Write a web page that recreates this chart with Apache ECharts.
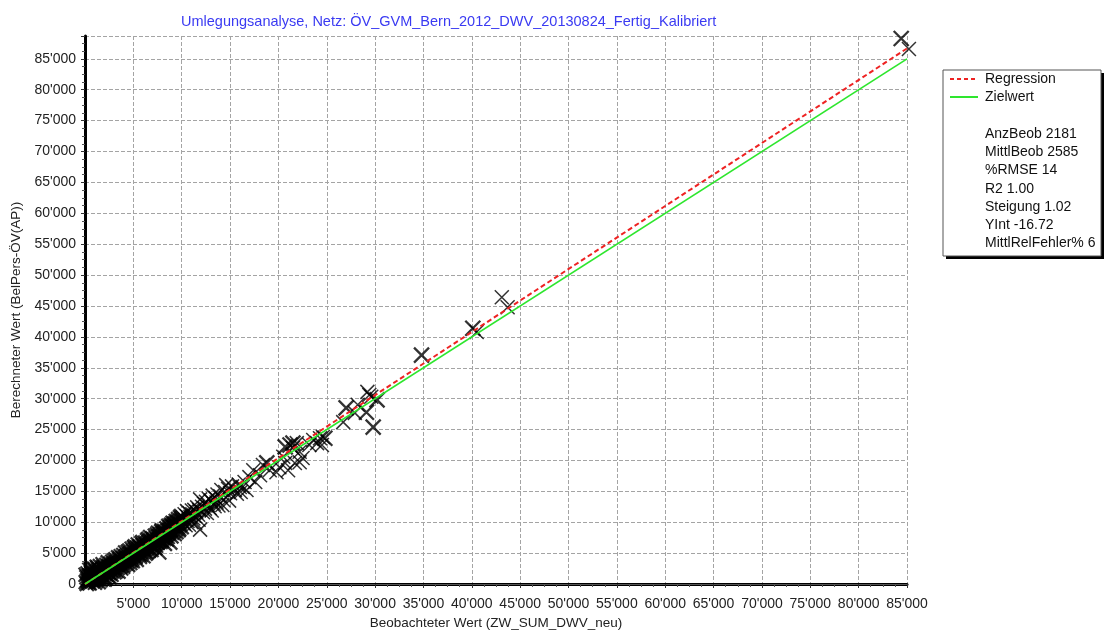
<!DOCTYPE html>
<html>
<head>
<meta charset="utf-8">
<script src="https://cdn.jsdelivr.net/npm/echarts@6/dist/echarts.min.js"></script>
<style>
html,body{margin:0;padding:0;background:#fff;}
#chart{width:1107px;height:630px;}
</style>
</head>
<body>
<div id="chart"></div>
<script>
// ---------- DATA ----------
var chartTitle = "Umlegungsanalyse, Netz: ÖV_GVM_Bern_2012_DWV_20130824_Fertig_Kalibriert";
var xAxisName = "Beobachteter Wert (ZW_SUM_DWV_neu)";
var yAxisName = "Berechneter Wert (BelPers-ÖV(AP))";
var legendNames = ["Regression", "Zielwert"];
var statLabels = ["AnzBeob", "MittlBeob", "%RMSE", "R2", "Steigung", "YInt", "MittlRelFehler%"];
var statValues = ["2181", "2585", "14", "1.00", "1.02", "-16.72", "6"];

// regression line end points [observed, calculated]
var regressionLine = [[0, -17], [85000, 86683]];
// target line y = x
var targetLine = [[0, 0], [85000, 85000]];

// dense band of observations (observed, calculated)
var denseObs = [
[80,300],[150,1100],[220,600],[60,1500],[190,0],
[320,900],[380,200],[260,1700],[410,1300],[350,500],
[520,1200],[480,100],[600,1900],[560,700],[450,2300],
[700,1500],[760,400],[680,1000],[800,2100],[740,2700],
[900,600],[950,1700],[880,1300],[1000,2400],[1020,200],
[1100,1000],[1180,1900],[1150,500],[1220,2800],[1080,1500],
[1300,800],[1380,2200],[1350,1400],[1420,300],[1280,2600],
[1500,1100],[1560,1800],[1600,600],[1540,2900],[1460,2300],
[1700,1500],[1760,900],[1800,2500],[1680,2000],[1820,3200],
[1900,1200],[1960,2200],[2000,1700],[2050,700],[1880,2800],
[2100,2500],[2180,1500],[2200,3100],[2140,1000],[2250,2000],
[2300,2200],[2380,1300],[2420,2900],[2350,3500],[2460,1800],
[2500,2600],[2580,1700],[2620,3300],[2550,1100],[2680,2200],
[2700,2900],[2760,2000],[2820,3600],[2740,1500],[2880,2600],
[2900,3000],[2960,2300],[3000,3800],[3050,1900],[2940,3300],
[3100,2700],[3180,3400],[3220,2100],[3150,4000],[3260,3100],
[3300,3600],[3380,2600],[3420,4300],[3350,3100],[3460,2000],
[3500,3300],[3580,4100],[3620,2800],[3550,3800],[3680,3400],
[3700,4500],[3760,3000],[3820,3700],[3740,2500],[3880,4200],
[3900,3500],[3960,4700],[4000,3100],[4050,4100],[3940,2800],
[4100,3800],[4180,4400],[4220,3300],[4150,5100],[4260,4000],
[4300,4600],[4380,3600],[4420,5200],[4350,4100],[4460,3100],
[4500,4300],[4580,5400],[4620,3900],[4550,4800],[4680,3400],
[4700,5000],[4760,4300],[4820,5700],[4740,3800],[4880,4700],
[4900,4100],[4960,5300],[5000,4600],[5050,5900],[4940,3700],
[5100,4900],[5180,5600],[5220,4300],[5150,6100],[5260,5200],
[5300,4600],[5380,5900],[5420,5000],[5350,3900],[5460,6400],
[5500,5400],[5580,4800],[5620,6100],[5550,5700],[5680,4400],
[5700,6000],[5760,5200],[5820,6600],[5740,4700],[5880,5600],
[5900,5100],[5960,6300],[6000,5700],[6050,4500],[5940,6800],
[6100,6000],[6180,5300],[6220,6700],[6150,5600],[6260,4900],
[6300,6400],[6380,5800],[6420,7100],[6350,5200],[6460,6600],
[6500,6000],[6580,6800],[6620,5400],[6550,7300],[6680,6300],
[6700,5700],[6760,7000],[6820,6400],[6740,7600],[6880,5500],
[6900,6700],[6960,7400],[7000,6100],[7050,7000],[6940,5900],
[7100,7200],[7180,6500],[7220,7800],[7150,6900],[7260,5800],
[7300,7400],[7380,6800],[7420,8000],[7350,6200],[7460,7100],
[7500,6700],[7580,7700],[7620,7200],[7550,8300],[7680,5100],
[7700,7300],[7760,8100],[7820,6800],[7740,7700],[7880,8500],
[7900,7600],[7960,7000],[8000,8200],[8050,7500],[7940,8700],
[8100,7900],[8180,8600],[8220,7300],[8150,8200],[8260,6500],
[8300,8400],[8380,7800],[8420,9000],[8350,8000],[8460,7200],
[8500,8600],[8580,8100],[8620,9400],[8550,7600],[8680,8800],
[8700,8300],[8760,9200],[8820,6700],[8740,8700],[8880,9600],
[8900,8800],[8960,9400],[9000,8300],[9050,9900],[8940,7700],
[9100,9200],[9180,8600],[9220,9800],[9150,9500],[9260,8100],
[9300,9400],[9380,10200],[9420,8900],[9350,9800],[9460,8400],
[9500,9800],[9580,9200],[9620,10500],[9550,10100],[9680,8700],
[9700,10000],[9760,9500],[9820,10800],[9740,8900],[9880,10300],
[9900,9700],[9960,10600],[10000,9200],[10050,10200],[9940,11000]
];

// medium range observations
var midObs = [
[10100,10800],[10200,9800],[10300,11300],[10350,10400],[10400,9500],
[10500,11000],[10550,11800],[10600,10200],[10700,10700],[10750,9600],
[10800,11500],[10900,10900],[11000,10000],[11050,11900],[11100,11300],
[11200,10600],[11300,12000],[11350,11000],[11400,9900],[11500,11700],
[11600,12400],[11700,11200],[11750,10400],[11800,12000],[11900,13700],
[11900,8800],[12100,12500],[12200,11600],[12300,13000],[12400,12200],
[12500,13300],[12600,11500],[12700,12800],[12800,13800],[12900,12300],
[13000,13500],[13100,11900],[13200,14300],[13300,13000],[13400,12600],
[13500,13900],[13700,14500],[13800,12700],[14000,14200],[14100,15200],
[14300,13600],[14500,14900],[14600,16000],[14800,15400],[15000,14700],
[13600,13200],[14200,12800],[14900,13500],
[15200,15800],[15500,15200],[15700,14600],[15900,16100],[16100,14900],
[16300,15700],[16500,16500],[16000,15700],[16700,15200],[17000,17300],
[17400,18400],[17600,16500],[18100,17600],[18400,19250],[19100,18400],
[19800,18100],[20100,18900],[20700,19600],[21000,18400],[21700,19600],
[22200,19700],[22500,20400],[22200,21400],[20500,20600],[21500,22000],
[21900,22800],[23200,22500],[23600,23300],[24000,22800],[24300,23600],
[24500,22500],[24600,23800],[26700,26200],[27900,27700],[28200,29000],
[29200,31100],[29600,30300],[29400,30600],[43100,46400],[43700,44800],
[40500,40800],[85200,86600]
];

// bold (overlapping) observations
var boldObs = [
[18800,19600],[20700,22200],[21200,22500],[21500,22800],[24800,23600],
[27000,28500],[29100,27800],[30200,29800],[29800,25400],[34800,37050],
[40100,41400],[84400,88300]
];

// axis ticks
var xTickMax = 85000;
var yTickMax = 88700;
var tickStep = 5000;

// ---------- CHART ----------
function fmt(v) {
  return String(Math.round(v)).replace(/\B(?=(\d{3})+(?!\d))/g, "'");
}
var FONT = "'Liberation Sans', Arial, sans-serif";
var chart = echarts.init(document.getElementById('chart'), null, {renderer: 'canvas'});
var crossPath = 'path://M0,0L10,10M10,0L0,10';
var RED = '#ee2222', GREEN = '#2ee62e';

var option = {
  animation: false,
  backgroundColor: '#ffffff',
  title: {
    text: chartTitle,
    left: 176, top: 9,
    textStyle: {fontFamily: FONT, fontSize: 14.5, fontWeight: 'normal', color: '#3a3af2'}
  },
  grid: {left: 85, right: 200, top: 36, bottom: 46, containLabel: false, outerBoundsMode: 'none'},
  xAxis: [{
    type: 'value', min: 0, max: xTickMax, interval: tickStep,
    name: xAxisName, nameLocation: 'middle', nameGap: 30,
    nameTextStyle: {fontFamily: FONT, fontSize: 13.5, color: '#222'},
    axisLine: {show: true, onZero: false, lineStyle: {color: '#000', width: 3}},
    axisTick: {show: true, length: 4, lineStyle: {color: '#333'}},
    minorTick: {show: true, splitNumber: 4, length: 3, lineStyle: {color: '#555'}},
    axisLabel: {fontFamily: FONT, fontSize: 14, color: '#222', margin: 13, showMinLabel: false,
      formatter: function (v) { return v === 0 ? '' : fmt(v); }},
    splitLine: {show: true, lineStyle: {color: '#a4a4a4', width: 1, type: [4, 2]}}
  }, {
    type: 'value', position: 'top', min: 0, max: xTickMax,
    axisLine: {show: true, lineStyle: {color: '#555', width: 1}},
    axisTick: {show: false}, axisLabel: {show: false}, splitLine: {show: false}
  }],
  yAxis: {
    type: 'value', min: 0, max: yTickMax, interval: tickStep,
    name: yAxisName, nameLocation: 'middle', nameGap: 60,
    nameTextStyle: {fontFamily: FONT, fontSize: 13.5, color: '#222'},
    axisLine: {show: true, onZero: false, lineStyle: {color: '#000', width: 3}},
    axisTick: {show: true, length: 4, lineStyle: {color: '#333'}},
    minorTick: {show: true, splitNumber: 4, length: 3, lineStyle: {color: '#555'}},
    axisLabel: {fontFamily: FONT, fontSize: 14, color: '#222', margin: 9, showMaxLabel: false,
      verticalAlignMinLabel: 'middle', verticalAlignMaxLabel: 'middle',
      formatter: function (v) { return v > 85000 ? '' : fmt(v); }},
    splitLine: {show: true, lineStyle: {color: '#a4a4a4', width: 1, type: [4, 2]}}
  },
  graphic: [{
    type: 'rect', z: 0,
    shape: {x: 946, y: 73, width: 158, height: 186},
    style: {fill: '#000', stroke: null}
  }, {
    type: 'rect', z: 1,
    shape: {x: 943, y: 70, width: 158, height: 186},
    style: {fill: '#fff', stroke: '#555', lineWidth: 1}
  }, {
    type: 'line', z: 10, shape: {x1: 950, y1: 79, x2: 978, y2: 79},
    style: {stroke: RED, lineWidth: 2, lineDash: [4, 3]}
  }, {
    type: 'line', z: 10, shape: {x1: 950, y1: 97, x2: 978, y2: 97},
    style: {stroke: GREEN, lineWidth: 2}
  }, {
    type: 'text', z: 10, x: 985, y: 70,
    style: {
      text: legendNames.join('\n'),
      font: '14px ' + FONT, lineHeight: 18.2, fill: '#111'
    }
  }, {
    type: 'text', z: 10, x: 985, y: 125,
    style: {
      text: statLabels.map(function (l, i) { return l + ' ' + statValues[i]; }).join('\n'),
      font: '14px ' + FONT, lineHeight: 18.2, fill: '#111'
    }
  }],
  series: [{
    name: 'Beobachtungen', type: 'scatter', data: denseObs,
    symbol: crossPath, symbolSize: 14, clip: false,
    itemStyle: {color: 'rgba(0,0,0,0)', borderColor: '#000', borderWidth: 2.3},
    z: 2
  }, {
    name: 'BeobachtungenMittel', type: 'scatter', data: midObs,
    symbol: crossPath, symbolSize: 14, clip: false,
    itemStyle: {color: 'rgba(0,0,0,0)', borderColor: '#000', borderWidth: 1.5},
    z: 2
  }, {
    name: 'BeobachtungenFett', type: 'scatter', data: boldObs,
    symbol: crossPath, symbolSize: 15, clip: false,
    itemStyle: {color: 'rgba(0,0,0,0)', borderColor: '#000', borderWidth: 2.3},
    z: 2
  }, {
    name: 'Regression', type: 'line', data: regressionLine, symbol: 'none',
    lineStyle: {color: RED, width: 2, type: [5, 3]},
    z: 3
  }, {
    name: 'Zielwert', type: 'line', data: targetLine, symbol: 'none',
    lineStyle: {color: GREEN, width: 1.7},
    z: 4
  }]
};
chart.setOption(option);
</script>
</body>
</html>
